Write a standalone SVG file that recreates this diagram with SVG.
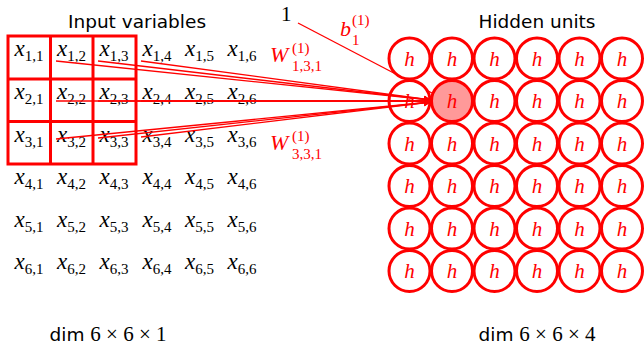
<svg xmlns="http://www.w3.org/2000/svg" width="644" height="348" viewBox="0 0 644 348">
<style>
.m{font-family:"Liberation Serif","DejaVu Serif",serif;font-style:italic;font-size:23px;fill:#000}
.mr{font-family:"Liberation Serif","DejaVu Serif",serif;font-size:15px;font-style:normal}
.h{font-family:"Liberation Serif",serif;font-style:italic;font-size:21px;fill:#ff0000;text-anchor:middle}
.t{font-family:"DejaVu Sans","Liberation Sans",sans-serif;font-size:18.5px;fill:#000;text-anchor:middle}
.n{font-family:"Liberation Serif",serif;font-size:21px}
.r{stroke:#ff0000;fill:none}
.c{stroke:#ff0000;stroke-width:3;fill:#fff}
.lab{font-family:"Liberation Serif",serif;font-style:italic;font-size:22px;fill:#ff0000}
.sub{font-family:"Liberation Serif",serif;font-style:normal;font-size:15px;fill:#ff0000}
</style>
<defs>
<marker id="ah" markerWidth="8" markerHeight="8" refX="7" refY="4" orient="auto" markerUnits="userSpaceOnUse">
<path d="M0,0.5 L7,4 L0,7.5 Z" fill="#ff0000"/>
</marker>
</defs>
<text class="t" x="137" y="28">Input variables</text>
<text class="t" x="537" y="28">Hidden units</text>
<text class="t" x="108" y="341">dim <tspan class="n">6 × 6 × 1</tspan></text>
<text class="t" x="537" y="341">dim <tspan class="n">6 × 6 × 4</tspan></text>

<g id="inputs" text-anchor="middle">
<text class="m" x="29" y="56">x<tspan class="mr" dy="5">1,1</tspan></text>
<text class="m" x="71.5" y="56">x<tspan class="mr" dy="5">1,2</tspan></text>
<text class="m" x="114" y="56">x<tspan class="mr" dy="5">1,3</tspan></text>
<text class="m" x="157" y="56">x<tspan class="mr" dy="5">1,4</tspan></text>
<text class="m" x="199.5" y="56">x<tspan class="mr" dy="5">1,5</tspan></text>
<text class="m" x="242" y="56">x<tspan class="mr" dy="5">1,6</tspan></text>
<text class="m" x="29" y="99">x<tspan class="mr" dy="5">2,1</tspan></text>
<text class="m" x="71.5" y="99">x<tspan class="mr" dy="5">2,2</tspan></text>
<text class="m" x="114" y="99">x<tspan class="mr" dy="5">2,3</tspan></text>
<text class="m" x="157" y="99">x<tspan class="mr" dy="5">2,4</tspan></text>
<text class="m" x="199.5" y="99">x<tspan class="mr" dy="5">2,5</tspan></text>
<text class="m" x="242" y="99">x<tspan class="mr" dy="5">2,6</tspan></text>
<text class="m" x="29" y="141.5">x<tspan class="mr" dy="5">3,1</tspan></text>
<text class="m" x="71.5" y="141.5">x<tspan class="mr" dy="5">3,2</tspan></text>
<text class="m" x="114" y="141.5">x<tspan class="mr" dy="5">3,3</tspan></text>
<text class="m" x="157" y="141.5">x<tspan class="mr" dy="5">3,4</tspan></text>
<text class="m" x="199.5" y="141.5">x<tspan class="mr" dy="5">3,5</tspan></text>
<text class="m" x="242" y="141.5">x<tspan class="mr" dy="5">3,6</tspan></text>
<text class="m" x="29" y="184">x<tspan class="mr" dy="5">4,1</tspan></text>
<text class="m" x="71.5" y="184">x<tspan class="mr" dy="5">4,2</tspan></text>
<text class="m" x="114" y="184">x<tspan class="mr" dy="5">4,3</tspan></text>
<text class="m" x="157" y="184">x<tspan class="mr" dy="5">4,4</tspan></text>
<text class="m" x="199.5" y="184">x<tspan class="mr" dy="5">4,5</tspan></text>
<text class="m" x="242" y="184">x<tspan class="mr" dy="5">4,6</tspan></text>
<text class="m" x="29" y="226.5">x<tspan class="mr" dy="5">5,1</tspan></text>
<text class="m" x="71.5" y="226.5">x<tspan class="mr" dy="5">5,2</tspan></text>
<text class="m" x="114" y="226.5">x<tspan class="mr" dy="5">5,3</tspan></text>
<text class="m" x="157" y="226.5">x<tspan class="mr" dy="5">5,4</tspan></text>
<text class="m" x="199.5" y="226.5">x<tspan class="mr" dy="5">5,5</tspan></text>
<text class="m" x="242" y="226.5">x<tspan class="mr" dy="5">5,6</tspan></text>
<text class="m" x="29" y="269">x<tspan class="mr" dy="5">6,1</tspan></text>
<text class="m" x="71.5" y="269">x<tspan class="mr" dy="5">6,2</tspan></text>
<text class="m" x="114" y="269">x<tspan class="mr" dy="5">6,3</tspan></text>
<text class="m" x="157" y="269">x<tspan class="mr" dy="5">6,4</tspan></text>
<text class="m" x="199.5" y="269">x<tspan class="mr" dy="5">6,5</tspan></text>
<text class="m" x="242" y="269">x<tspan class="mr" dy="5">6,6</tspan></text>
</g>

<g id="filter" class="r" stroke-width="3">
<rect x="8" y="36" width="128" height="128"/>
<line x1="50.5" y1="36" x2="50.5" y2="164"/>
<line x1="93" y1="36" x2="93" y2="164"/>
<line x1="8" y1="79" x2="136" y2="79"/>
<line x1="8" y1="121.5" x2="136" y2="121.5"/>
</g>

<g id="bias-connector">
<line x1="298" y1="23" x2="432" y2="93" stroke="#ff0000" stroke-width="1.3"/>
</g>

<g id="hidden">
<g id="row1">
<circle class="c" cx="409.5" cy="58.5" r="20.5"/><text class="h" x="409.5" y="65.5">h</text>
<circle class="c" cx="452" cy="58.5" r="20.5"/><text class="h" x="452" y="65.5">h</text>
<circle class="c" cx="494.5" cy="58.5" r="20.5"/><text class="h" x="494.5" y="65.5">h</text>
<circle class="c" cx="537" cy="58.5" r="20.5"/><text class="h" x="537" y="65.5">h</text>
<circle class="c" cx="579.5" cy="58.5" r="20.5"/><text class="h" x="579.5" y="65.5">h</text>
<circle class="c" cx="622" cy="58.5" r="20.5"/><text class="h" x="622" y="65.5">h</text>
</g>
<g id="row2">
<circle class="c" cx="409.5" cy="101" r="20.5"/><text class="h" x="409.5" y="108">h</text>
<circle id="target" cx="452" cy="101" r="20.5" stroke="#ff0000" stroke-width="3" fill="#ff9999"/><text class="h" x="452" y="108">h</text>
<circle class="c" cx="494.5" cy="101" r="20.5"/><text class="h" x="494.5" y="108">h</text>
<circle class="c" cx="537" cy="101" r="20.5"/><text class="h" x="537" y="108">h</text>
<circle class="c" cx="579.5" cy="101" r="20.5"/><text class="h" x="579.5" y="108">h</text>
<circle class="c" cx="622" cy="101" r="20.5"/><text class="h" x="622" y="108">h</text>
</g>
<g id="row3">
<circle class="c" cx="409.5" cy="143.5" r="20.5"/><text class="h" x="409.5" y="150.5">h</text>
<circle class="c" cx="452" cy="143.5" r="20.5"/><text class="h" x="452" y="150.5">h</text>
<circle class="c" cx="494.5" cy="143.5" r="20.5"/><text class="h" x="494.5" y="150.5">h</text>
<circle class="c" cx="537" cy="143.5" r="20.5"/><text class="h" x="537" y="150.5">h</text>
<circle class="c" cx="579.5" cy="143.5" r="20.5"/><text class="h" x="579.5" y="150.5">h</text>
<circle class="c" cx="622" cy="143.5" r="20.5"/><text class="h" x="622" y="150.5">h</text>
</g>
<g id="row4">
<circle class="c" cx="409.5" cy="186" r="20.5"/><text class="h" x="409.5" y="193">h</text>
<circle class="c" cx="452" cy="186" r="20.5"/><text class="h" x="452" y="193">h</text>
<circle class="c" cx="494.5" cy="186" r="20.5"/><text class="h" x="494.5" y="193">h</text>
<circle class="c" cx="537" cy="186" r="20.5"/><text class="h" x="537" y="193">h</text>
<circle class="c" cx="579.5" cy="186" r="20.5"/><text class="h" x="579.5" y="193">h</text>
<circle class="c" cx="622" cy="186" r="20.5"/><text class="h" x="622" y="193">h</text>
</g>
<g id="row5">
<circle class="c" cx="409.5" cy="228.5" r="20.5"/><text class="h" x="409.5" y="235.5">h</text>
<circle class="c" cx="452" cy="228.5" r="20.5"/><text class="h" x="452" y="235.5">h</text>
<circle class="c" cx="494.5" cy="228.5" r="20.5"/><text class="h" x="494.5" y="235.5">h</text>
<circle class="c" cx="537" cy="228.5" r="20.5"/><text class="h" x="537" y="235.5">h</text>
<circle class="c" cx="579.5" cy="228.5" r="20.5"/><text class="h" x="579.5" y="235.5">h</text>
<circle class="c" cx="622" cy="228.5" r="20.5"/><text class="h" x="622" y="235.5">h</text>
</g>
<g id="row6">
<circle class="c" cx="409.5" cy="271" r="20.5"/><text class="h" x="409.5" y="278">h</text>
<circle class="c" cx="452" cy="271" r="20.5"/><text class="h" x="452" y="278">h</text>
<circle class="c" cx="494.5" cy="271" r="20.5"/><text class="h" x="494.5" y="278">h</text>
<circle class="c" cx="537" cy="271" r="20.5"/><text class="h" x="537" y="278">h</text>
<circle class="c" cx="579.5" cy="271" r="20.5"/><text class="h" x="579.5" y="278">h</text>
<circle class="c" cx="622" cy="271" r="20.5"/><text class="h" x="622" y="278">h</text>
</g>
</g>

<g id="connectors" stroke="#ff0000" stroke-width="1.3" marker-end="url(#ah)">
<line x1="56" y1="61" x2="431" y2="100"/>
<line x1="98" y1="61" x2="431" y2="100"/>
<line x1="141" y1="61" x2="431" y2="100"/>
<line x1="56" y1="101" x2="431" y2="101"/>
<line x1="98" y1="101" x2="431" y2="101"/>
<line x1="141" y1="101" x2="431" y2="101"/>
<line x1="56" y1="139" x2="431" y2="102"/>
<line x1="98" y1="138" x2="431" y2="102"/>
<line x1="141" y1="137" x2="431" y2="102"/>
</g>

<g id="labels">
<text x="281" y="21" font-family="Liberation Serif,serif" font-size="21" fill="#000">1</text>
<text class="lab" x="340" y="36">b</text>
<text class="sub" x="352" y="25">(1)</text>
<text class="sub" x="352" y="45">1</text>
<text class="lab" x="270" y="62">W</text>
<text class="sub" x="292" y="53">(1)</text>
<text class="sub" x="292" y="71">1,3,1</text>
<text class="lab" x="270" y="150">W</text>
<text class="sub" x="292" y="141">(1)</text>
<text class="sub" x="292" y="159">3,3,1</text>
</g>
</svg>
